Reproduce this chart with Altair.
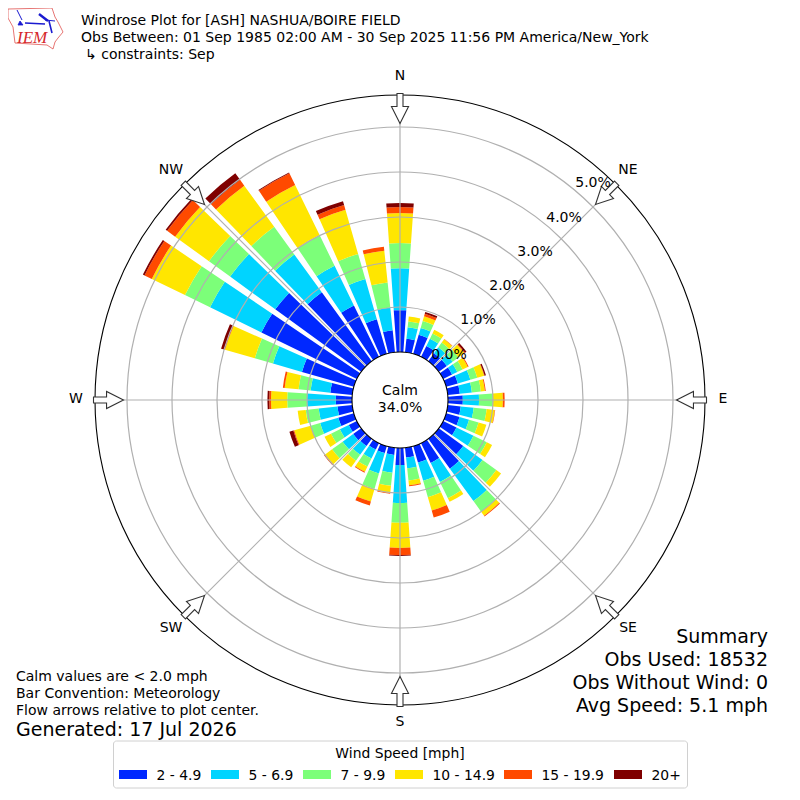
import math
import altair as alt
import pandas as pd

FONT = "DejaVu Sans"
OFF = 8
CX, CY = 400 - OFF, 400 - OFF
R0, ROUT = 48, 305
PCT_PX = 45

speed_bins = ["2 - 4.9", "5 - 6.9", "7 - 9.9", "10 - 14.9", "15 - 19.9", "20+"]
bin_colors = ["#0028ff", "#00d4ff", "#7cff79", "#ffe600", "#ff4a00", "#7f0000"]
directions = list(range(0, 360, 10))

s_2_5 = [.93,.30,.44,.27,.22,.22,.22,.27,.27,.33,.29,.31,.33,.67,.82,.49,.38,.22,
         .38,.16,.16,.16,.20,.22,.20,.36,.33,.36,.49,1.20,2.36,2.36,1.89,1.27,.80,.49]
s_5_7 = [.93,.26,.16,.18,.16,.16,.13,.29,.27,.36,.29,.22,.42,.53,.89,.47,.42,.24,
         .84,.40,.47,.22,.24,.29,.22,.42,.42,.64,.44,.67,1.27,1.24,1.04,.98,.93,.51]
s_7_10 = [.56,.13,.16,.13,.13,.16,.13,.16,.20,.31,.29,.22,.33,.38,.29,.40,.38,.27,
          .44,.29,.36,.20,.16,.29,.22,.22,.29,.44,.27,.42,.62,.58,.76,.76,.58,.56]
s_10_15 = [.67,.11,.11,.09,.09,.16,.13,.16,.09,.22,.18,.18,.13,.13,.11,.09,.31,.11,
           .56,.16,.29,.13,.18,.20,.16,.38,.18,.36,.31,.69,.82,.93,1.13,1.24,1.02,.71]
s_15_20 = [.13,0,.06,0,.01,.02,.02,.01,.02,.04,.01,0,0,0,.02,0,.16,.02,
           .16,.02,.09,.02,0,.02,0,.02,0,.04,.04,.02,.18,.22,.16,.29,.11,.09]
s_20 = [.09,0,.04,0,0,.04,0,.03,0,0,0,0,0,0,0,0,0,0,
        .02,0,0,0,0,0,0,.09,0,.04,0,.07,.04,.04,.18,.02,.09,0]
series = [s_2_5, s_5_7, s_7_10, s_10_15, s_15_20, s_20]

rings = [1, 2, 3, 4, 5]
spokes = [0, 45, 90, 135, 180, 225, 270, 315]
bar_half_width = 4

rows = []
for i, d in enumerate(directions):
    base = 0.0
    for b, vals in zip(speed_bins, series):
        v = vals[i]
        if v > 0:
            rows.append(dict(bin=b, t0=math.radians(d - bar_half_width), t1=math.radians(d + bar_half_width),
                             r0=base, r1=base + v))
        base += v
bars_df = pd.DataFrame(rows)

color_scale = alt.Scale(domain=speed_bins, range=bin_colors)
radius_scale = alt.Scale(type="linear", domain=[0, (ROUT - R0) / PCT_PX], range=[R0, ROUT])

bars = alt.Chart(bars_df).mark_arc(strokeWidth=0).encode(
    theta=alt.Theta("t0:Q", scale=None),
    theta2=alt.Theta2("t1:Q"),
    radius=alt.Radius("r1:Q", scale=radius_scale),
    radius2=alt.Radius2("r0:Q"),
    color=alt.Color("bin:N", scale=color_scale, legend=None),
)

def polar(deg, r):
    a = math.radians(deg)
    return CX + r * math.sin(a), CY - r * math.cos(a)

XP = lambda f: alt.X(f, scale=None, axis=None)
YP = lambda f: alt.Y(f, scale=None, axis=None)

GRID = "#b0b0b0"

# radial spokes
sp = []
for d in spokes:
    x0, y0 = polar(d, R0)
    x1, y1 = polar(d, ROUT)
    sp.append(dict(x=x0, y=y0, x2=x1, y2=y1))
spoke_layer = alt.Chart(pd.DataFrame(sp)).mark_rule(color=GRID, strokeWidth=1.2).encode(
    x=XP("x:Q"), y=YP("y:Q"), x2="x2:Q", y2="y2:Q")

# circles
def circle_layer(radii, color, fill=None, width=1.0):
    df = pd.DataFrame({"x": CX, "y": CY, "s": [(2 * r) ** 2 for r in radii]})
    kw = dict(shape="circle", stroke=color, strokeWidth=width, opacity=1)
    if fill:
        mk = alt.Chart(df).mark_point(filled=True, fill=fill, **kw)
    else:
        mk = alt.Chart(df).mark_point(filled=False, **kw)
    return mk.encode(x=XP("x:Q"), y=YP("y:Q"), size=alt.Size("s:Q", scale=None, legend=None))

grid_circles = circle_layer([R0 + PCT_PX * k for k in rings], GRID, width=1.2)
outer_circle = circle_layer([ROUT], "#000000", width=1.1)
inner_circle = circle_layer([R0], "#000000", fill="#ffffff", width=1.1)

# flow arrows
ARROW = "M-0.2,-1H0.2V-0.13H0.57L0,1L-0.57,-0.13H-0.2Z"
arr = []
for d in spokes:
    x, y = polar(d, 291.5)
    arr.append(dict(x=x, y=y, a=d))
arrows = alt.Chart(pd.DataFrame(arr)).mark_point(
    shape=ARROW, size=900, filled=True, fill="#ffffff", stroke="#333333", strokeWidth=1.1, opacity=1
).encode(x=XP("x:Q"), y=YP("y:Q"), angle=alt.Angle("a:Q", scale=None))

# text
TEXT_DY = 1.0
def texts(items, align="left", color="#000000", **kw):
    df = pd.DataFrame([dict(x=x - OFF, y=y - OFF + TEXT_DY, t=t, s=s) for x, y, t, s in items])
    return alt.Chart(df).mark_text(align=align, baseline="middle", font=FONT, color=color, **kw).encode(
        x=XP("x:Q"), y=YP("y:Q"), text="t:N", size=alt.Size("s:Q", scale=None, legend=None))

T = 14.0
left_text = texts([
    (81, 20, "Windrose Plot for [ASH] NASHUA/BOIRE FIELD", T),
    (81, 37, "Obs Between: 01 Sep 1985 02:00 AM - 30 Sep 2025 11:56 PM America/New_York", T),
    (85, 54, "\u21b3 constraints: Sep", T),
    (16, 676, "Calm values are < 2.0 mph", T),
    (16, 693, "Bar Convention: Meteorology", T),
    (16, 710, "Flow arrows relative to plot center.", T),
    (16, 728.5, "Generated: 17 Jul 2026", 19),
])
right_text = texts([
    (768, 636, "Summary", 19),
    (768, 659, "Obs Used: 18532", 19),
    (768, 682, "Obs Without Wind: 0", 19),
    (768, 705, "Avg Speed: 5.1 mph", 19),
], align="right")
center_text = texts([
    (400, 75, "N", T), (628, 169, "NE", T), (723, 398, "E", T), (628, 627, "SE", T),
    (400, 721, "S", T), (171, 627, "SW", T), (76, 398, "W", T), (171, 169, "NW", T),
    (400, 390, "Calm", T), (400, 407, "34.0%", T),
    (449, 354, "0.0%", T), (478, 319, "1.0%", T), (507, 285, "2.0%", T),
    (535, 251, "3.0%", T), (564, 217, "4.0%", T), (593, 182, "5.0%", T),
], align="center")

# legend
box = alt.Chart(pd.DataFrame([dict(x=113.5 - OFF, x2=687.5 - OFF, y=741 - OFF, y2=788 - OFF)])).mark_rect(
    fill="#ffffff", stroke="#d0d0d0", strokeWidth=1, cornerRadius=3
).encode(x=XP("x:Q"), x2="x2:Q", y=YP("y:Q"), y2="y2:Q")

swatch_x = [119, 211, 303, 395, 504, 614]
swatch = alt.Chart(pd.DataFrame([
    dict(bin=b, x=x - OFF, x2=x + 28 - OFF, y=770 - OFF, y2=779 - OFF) for b, x in zip(speed_bins, swatch_x)
])).mark_rect().encode(
    x=XP("x:Q"), x2="x2:Q", y=YP("y:Q"), y2="y2:Q",
    color=alt.Color("bin:N", scale=color_scale, legend=None))
legend_text = texts([(x + 37.5, 774.5, b, 13.9) for b, x in zip(speed_bins, swatch_x)])
legend_title = texts([(400, 752.5, "Wind Speed [mph]", 13.9)], align="center")

# logo
RED = "#e0524f"
BLUE = "#1a1ad0"
def logo_path(path, color, width, fill=None):
    df = pd.DataFrame([dict(x=0, y=0)])
    kw = dict(shape=path, size=4, stroke=color, strokeWidth=width, opacity=1)
    mk = alt.Chart(df).mark_point(filled=True, fill=fill, **kw) if fill else alt.Chart(df).mark_point(filled=False, **kw)
    return mk.encode(x=XP("x:Q"), y=YP("y:Q"))

o = -OFF
def P(pts):
    return "M" + "L".join(f"{x + o},{y + o}" for x, y in pts)

logo_outline = logo_path(P([(8, 9), (52, 8), (55, 17), (58, 22), (63, 32), (58, 38), (55, 42), (53, 49),
                            (47, 45), (15, 43), (13, 27), (8, 18)]) + "Z", RED, 0.8)
logo_blue = logo_path(
    P([(25, 23), (45, 24)]) + P([(49, 21), (52, 33)]), BLUE, 1.6)
logo_thin = logo_path(P([(17, 10), (22, 20)]) + P([(45, 20), (55, 21)]), BLUE, 1.0)
logo_wing = logo_path(P([(39, 14), (48, 21)]), BLUE, 2.4)
logo_tri = logo_path(P([(20, 21), (23, 25), (18, 25)]) + "Z", BLUE, 0.8, fill=BLUE)
logo_text = alt.Chart(pd.DataFrame([dict(x=17 - OFF, y=38 - OFF, t="IEM")])).mark_text(
    align="left", baseline="middle", font="Liberation Serif", fontStyle="italic", fontSize=17, color="#d6282b"
).encode(x=XP("x:Q"), y=YP("y:Q"), text="t:N")

chart = alt.layer(
    bars, spoke_layer, grid_circles, outer_circle, inner_circle, arrows,
    left_text, right_text, center_text, box, swatch, legend_text, legend_title,
    logo_outline, logo_blue, logo_thin, logo_wing, logo_tri, logo_text,
).properties(width=784, height=784, padding=0, autosize=alt.AutoSizeParams(type="none")).configure_view(stroke=None)

chart.save("out.html", embed_options={"renderer": "svg", "actions": False})
